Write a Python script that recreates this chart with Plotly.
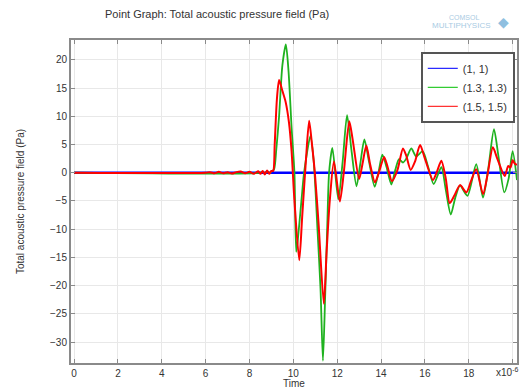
import plotly.graph_objects as go

# Time axis (scaled by 1e-6) and point-probe pressure values (Pa)
t_p11 = [0.0, 20.2]
p_p11 = [0.0, 0.0]

t_p13 = [0.0, 8.5, 8.6, 8.7, 8.8, 8.9, 9.0, 9.12, 9.22, 9.35, 9.5, 9.66, 9.78,
         9.92, 10.05, 10.13, 10.2, 10.37, 10.49, 10.78, 10.93, 11.1, 11.24,
         11.35, 11.45, 11.55, 11.63, 11.78, 12.05, 12.25, 12.45, 12.65, 12.88,
         13.05, 13.24, 13.45, 13.71, 13.88, 14.06, 14.25, 14.47, 14.65, 14.82,
         15.0, 15.15, 15.38, 15.6, 15.9, 16.15, 16.4, 16.75, 16.95, 17.18,
         17.38, 17.6, 17.94, 18.34, 18.65, 18.9, 19.15, 19.35, 19.62, 19.82,
         20.0, 20.2]
p_p13 = [0.0, 0.0, 0.2, -0.2, 0.3, -0.1, 0.2, 0.6, 4.0, 10.0, 19.0, 22.7, 18.0,
         8.0, 0.0, -14.0, -12.0, -4.9, 0.0, 6.5, 2.0, -10.0, -20.6,
         -33.3, -22.0, -9.0, 0.0, 4.4, -4.7, 2.0, 10.2, 4.0, -2.4,
         1.5, 5.9, 2.0, -2.5, 0.0, 3.2, 1.0, -2.1, 0.5, 2.4,
         1.8, 2.5, 4.3, 2.9, 3.8, 1.0, -2.0, 1.0, -3.0, -7.4,
         -4.5, -2.3, -4.1, 1.5, -4.4, 1.0, 7.7, 3.0, -3.5, -1.0,
         3.8, -1.3]

t_p15 = [0.0, 6.0, 6.2, 6.4, 6.6, 6.8, 7.0, 7.2, 7.4, 7.6, 7.8, 8.0, 8.2, 8.4,
         8.5, 8.6, 8.7, 8.8, 8.9, 9.0, 9.08, 9.15, 9.25, 9.35, 9.5, 9.65, 9.8,
         9.92, 10.05, 10.27, 10.4, 10.57, 10.72, 10.85, 10.98, 11.15, 11.39,
         11.52, 11.66, 11.85, 12.12, 12.3, 12.55, 12.7, 13.0, 13.15, 13.33,
         13.5, 13.72, 13.9, 14.14, 14.3, 14.5, 14.75, 15.0, 15.15, 15.35,
         15.55, 15.78, 16.0, 16.37, 16.55, 16.75, 16.95, 17.13, 17.35, 17.6,
         17.89, 18.1, 18.34, 18.65, 18.85, 19.1, 19.3, 19.64, 19.8, 19.9,
         20.0, 20.1, 20.2]
p_p15 = [0.0, 0.0, 0.1, -0.1, 0.15, -0.1, 0.1, -0.15, 0.1, 0.2, -0.1, 0.15,
         -0.2, 0.25, -0.2, 0.3, -0.3, 0.4, -0.2, 0.3, 0.3, 5.0, 13.0, 16.4,
         14.5, 12.5, 8.9, 3.8, -5.0, -15.5, -8.0, 2.0, 9.2, 5.0, 0.0, -9.0,
         -23.2, -13.8, -5.0, 2.0, -5.1, 0.0, 9.1, 6.0, -1.1, 1.5, 4.8,
         1.5, -1.7, 0.0, 2.8, 1.0, -1.5, 0.5, 4.3, 3.0, 0.5,
         2.0, 4.9, 2.5, -1.3, 0.2, 2.1, -1.0, -5.4, -4.0, -2.2,
         -3.5, -1.5, 0.6, -3.8, -0.5, 4.5, 2.5, -0.6, 1.2, 0.9,
         2.2, 1.6, 1.4]

series_names = ["(1, 1)", "(1.3, 1.3)", "(1.5, 1.5)"]
series_colors = ["#0000ff", "#1fb21f", "#ff0000"]
legend_colors = ["#2b2bff", "#33cc33", "#ff3333"]

x_tick_vals = [0, 2, 4, 6, 8, 10, 12, 14, 16, 18, 20]
x_tick_text = ["0", "2", "4", "6", "8", "10", "12", "14", "16", "18", ""]
y_tick_vals = [-30, -25, -20, -15, -10, -5, 0, 5, 10, 15, 20]

FONT = "Liberation Sans, Arial, sans-serif"
TXT = "#333333"

fig = go.Figure()
curves = [
    (t_p11, p_p11, 2.6),
    (t_p13, p_p13, 1.8),
    (t_p15, p_p15, 2.0),
]
for (t, p, w), name, color in zip(curves, series_names, series_colors):
    fig.add_trace(go.Scatter(
        x=t, y=p, mode="lines", name=name, legendgroup=name, showlegend=False,
        line=dict(color=color, width=w, shape="spline", smoothing=0.7),
    ))

# Thin-line legend keys, grouped with the curves above
for name, color in zip(series_names, legend_colors):
    fig.add_trace(go.Scatter(
        x=[None], y=[None], mode="lines", name=name, legendgroup=name,
        line=dict(color=color, width=1.2),
    ))

axis_common = dict(
    showline=True, linecolor="#8a8a8a", linewidth=2, mirror="ticks",
    ticks="inside", ticklen=4, tickcolor="#8a8a8a", tickwidth=1,
    showgrid=True, gridcolor="#e8e8e8", gridwidth=1, zeroline=False,
    tickfont=dict(family=FONT, size=10, color=TXT),
    automargin=False,
)

fig.update_layout(
    width=531, height=389,
    margin=dict(l=71, r=14, t=40, b=26),
    paper_bgcolor="white", plot_bgcolor="white",
    showlegend=True,
    legend=dict(
        x=0.995, y=0.963, xanchor="right", yanchor="top",
        bgcolor="white", bordercolor="#555555", borderwidth=2,
        font=dict(family=FONT, size=11, color=TXT),
        tracegroupgap=0, itemwidth=30,
    ),
    title=dict(
        text="Point Graph: Total acoustic pressure field (Pa)",
        xref="container", yref="container",
        x=105 / 531, xanchor="left", y=1 - 14 / 389, yanchor="middle",
        font=dict(family=FONT, size=11, color=TXT),
    ),
    xaxis=dict(
        range=[-0.14, 20.2], tickvals=x_tick_vals, ticktext=x_tick_text,
        title=dict(text="Time", standoff=1,
                   font=dict(family=FONT, size=10, color=TXT)),
        **axis_common,
    ),
    yaxis=dict(
        range=[-33.7, 23.5], tickvals=y_tick_vals,
        title=dict(text="Total acoustic pressure field (Pa)", standoff=24,
                   font=dict(family=FONT, size=10, color=TXT)),
        **axis_common,
    ),
)

# Axis scale factor label
fig.add_annotation(
    text="x10<sup>-6</sup>", xref="paper", yref="paper",
    x=(494 - 71) / 446, y=-(372 - 363) / 323, xanchor="left", yanchor="middle",
    showarrow=False, font=dict(family=FONT, size=10, color=TXT),
)

# Software watermark
fig.add_annotation(
    text="COMSOL", xref="paper", yref="paper",
    x=(481 - 71) / 446, y=1 + (40 - 17) / 323, xanchor="right", yanchor="middle",
    showarrow=False, font=dict(family=FONT, size=7, color="#a9cbe3"),
)
fig.add_annotation(
    text="MULTIPHYSICS", xref="paper", yref="paper",
    x=(493 - 71) / 446, y=1 + (40 - 26) / 323, xanchor="right", yanchor="middle",
    showarrow=False, font=dict(family=FONT, size=8, color="#a9cbe3"),
)
fig.add_annotation(
    text="◆", xref="paper", yref="paper",
    x=(503 - 71) / 446, y=1 + (40 - 22) / 323, xanchor="center", yanchor="middle",
    showarrow=False, font=dict(family="DejaVu Sans", size=14, color="#8fbfe0"),
)

fig.write_html("out.html")
